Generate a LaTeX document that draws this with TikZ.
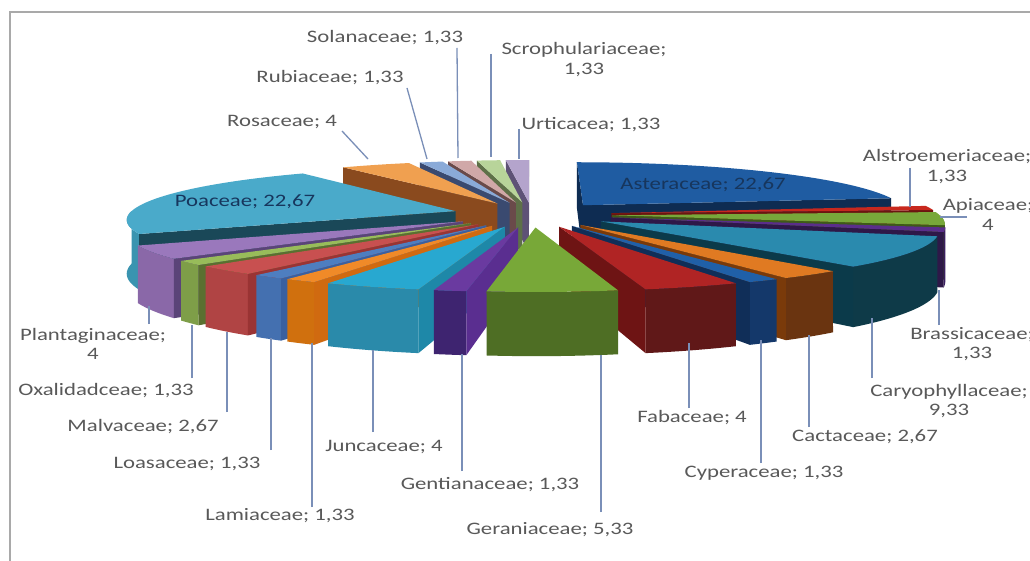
\documentclass[tikz,border=0pt]{standalone}
\usepackage{fontspec}
\setmainfont{Carlito}[FakeStretch=1.3]
\definecolor{txtgray}{HTML}{595959}
\definecolor{leadc}{HTML}{7A8FB8}
\definecolor{framec}{HTML}{A9A9A9}
\definecolor{inlbl}{HTML}{17365D}
% slice colours: T top, W radial wall, O outer wall
\definecolor{astT}{HTML}{1F5CA2}\definecolor{astW}{HTML}{0E2C52}
\definecolor{alsT}{HTML}{C8281E}\definecolor{alsW}{HTML}{6A1510}
\definecolor{apiT}{HTML}{78A83A}\definecolor{apiW}{HTML}{3E5A18}\definecolor{apiO}{HTML}{5A7E28}
\definecolor{braT}{HTML}{5A2E8A}\definecolor{braW}{HTML}{2E1848}\definecolor{braO}{HTML}{3A1E60}
\definecolor{carT}{HTML}{2A8AAE}\definecolor{carW}{HTML}{0B3A4A}\definecolor{carO}{HTML}{0E3A48}
\definecolor{cacT}{HTML}{E07A22}\definecolor{cacW}{HTML}{7A3A0A}\definecolor{cacO}{HTML}{6A3410}
\definecolor{cypT}{HTML}{2060A8}\definecolor{cypW}{HTML}{102E58}\definecolor{cypO}{HTML}{14386A}
\definecolor{fabT}{HTML}{B02424}\definecolor{fabW}{HTML}{6E1414}\definecolor{fabO}{HTML}{601818}
\definecolor{gerT}{HTML}{78A838}\definecolor{gerO}{HTML}{4E6E24}
\definecolor{genT}{HTML}{6A3AA0}\definecolor{genW}{HTML}{5A2E90}\definecolor{genO}{HTML}{3E2470}
\definecolor{junT}{HTML}{28A8D0}\definecolor{junW}{HTML}{1E88A8}\definecolor{junO}{HTML}{2A8AAA}
\definecolor{lamT}{HTML}{F08A28}\definecolor{lamW}{HTML}{D06A10}\definecolor{lamO}{HTML}{D0700E}
\definecolor{loaT}{HTML}{4E7EC0}\definecolor{loaW}{HTML}{3A60A0}\definecolor{loaO}{HTML}{4470B0}
\definecolor{malT}{HTML}{C85050}\definecolor{malW}{HTML}{9A3434}\definecolor{malO}{HTML}{B04444}
\definecolor{oxaT}{HTML}{98BC5A}\definecolor{oxaW}{HTML}{5A7030}\definecolor{oxaO}{HTML}{7E9E48}
\definecolor{plaT}{HTML}{9A78BC}\definecolor{plaW}{HTML}{5A4478}\definecolor{plaO}{HTML}{8A68A8}
\definecolor{poaT}{HTML}{4AAACA}\definecolor{poaW}{HTML}{1A4858}\definecolor{poaO}{HTML}{3A94B0}
\definecolor{rosT}{HTML}{F0A050}\definecolor{rosW}{HTML}{8A4A1E}
\definecolor{rubT}{HTML}{8AAAD8}\definecolor{rubW}{HTML}{3A4A70}
\definecolor{solT}{HTML}{D0A8A8}\definecolor{solW}{HTML}{6A4A4A}
\definecolor{scrT}{HTML}{B8D49A}\definecolor{scrW}{HTML}{5E7048}
\definecolor{urtT}{HTML}{B4A4CC}\definecolor{urtW}{HTML}{5E5276}
% pie geometry
\def\pcx{532}\def\pcy{214.5}\def\prx{327}\def\pry{51.4}\def\ppp{0.14}\def\pht{53}\def\pex{0.245}
\newcommand\slc[2]{\pgfmathsetmacro\smid{((#1)+(#2))/2}\pgfmathsetmacro\sx{\pex*cos(\smid)}\pgfmathsetmacro\sy{\pex*sin(\smid)}}
\newcommand\topface[3]{\fill[#3] ({\pcx+\prx*(\sx)/(1+\ppp*(\sy))},{\pcy-\pry*(\sy)/(1+\ppp*(\sy))}) -- plot[domain=#1:#2,samples=40,variable=\t] ({\pcx+\prx*((\sx)+cos(\t))/(1+\ppp*((\sy)+sin(\t)))},{\pcy-\pry*((\sy)+sin(\t))/(1+\ppp*((\sy)+sin(\t)))}) -- cycle;}
\newcommand\outerwall[3]{\fill[#3] plot[domain=#1:#2,samples=40,variable=\t] ({\pcx+\prx*((\sx)+cos(\t))/(1+\ppp*((\sy)+sin(\t)))},{\pcy-\pry*((\sy)+sin(\t))/(1+\ppp*((\sy)+sin(\t)))}) -- plot[domain=#2:#1,samples=40,variable=\t] ({\pcx+\prx*((\sx)+cos(\t))/(1+\ppp*((\sy)+sin(\t)))},{\pcy+(\pht-\pry*((\sy)+sin(\t)))/(1+\ppp*((\sy)+sin(\t)))}) -- cycle;}
\newcommand\radwall[2]{\fill[#2] ({\pcx+\prx*(\sx)/(1+\ppp*(\sy))},{\pcy-\pry*(\sy)/(1+\ppp*(\sy))}) -- ({\pcx+\prx*((\sx)+cos(#1))/(1+\ppp*((\sy)+sin(#1)))},{\pcy-\pry*((\sy)+sin(#1))/(1+\ppp*((\sy)+sin(#1)))}) -- ({\pcx+\prx*((\sx)+cos(#1))/(1+\ppp*((\sy)+sin(#1)))},{\pcy+(\pht-\pry*((\sy)+sin(#1)))/(1+\ppp*((\sy)+sin(#1)))}) -- ({\pcx+\prx*(\sx)/(1+\ppp*(\sy))},{\pcy+(\pht-\pry*(\sy))/(1+\ppp*(\sy))}) -- cycle;}
\tikzset{
  lbl/.style={text=txtgray, inner sep=0pt, align=center},
  inlabel/.style={text=inlbl, inner sep=0pt},
  leader/.style={draw=leadc, line width=1.3pt},
  frame/.style={draw=framec, line width=2pt}
}
\begin{document}
\begin{tikzpicture}[x=1pt,y=-1pt,font=\fontsize{17.5}{19.5}\selectfont]
\useasboundingbox (0,0) rectangle (1030,561);
\fill[white] (0,0) rectangle (1030,561);
\draw[frame] (10,561) -- (10,12) -- (1030,12);
% ---- right group ----
\slc{90}{8.4}\radwall{90}{astW}\radwall{8.4}{astW}\topface{90}{8.4}{astT}
\slc{8.4}{3.6}\radwall{3.6}{alsW}\topface{8.4}{3.6}{alsT}
\slc{3.6}{-10.8}\outerwall{-10.8}{0}{apiO}\radwall{-10.8}{apiW}\topface{3.6}{-10.8}{apiT}
\slc{-10.8}{-15.6}\outerwall{-15.6}{-10.8}{braO}\radwall{-15.6}{braW}\topface{-10.8}{-15.6}{braT}
\slc{-15.6}{-49.2}\outerwall{-49.2}{-15.6}{carO}\radwall{-49.2}{carW}\topface{-15.6}{-49.2}{carT}
\slc{-49.2}{-58.8}\outerwall{-58.8}{-49.2}{cacO}\radwall{-58.8}{cacW}\topface{-49.2}{-58.8}{cacT}
\slc{-58.8}{-63.6}\outerwall{-63.6}{-58.8}{cypO}\radwall{-63.6}{cypW}\topface{-58.8}{-63.6}{cypT}
\slc{-63.6}{-78}\outerwall{-78}{-63.6}{fabO}\radwall{-78}{fabW}\topface{-63.6}{-78}{fabT}
% ---- back group ----
\slc{94.8}{90}\radwall{94.8}{urtW}\radwall{90}{urtW}\topface{94.8}{90}{urtT}
\slc{99.6}{94.8}\radwall{99.6}{scrW}\topface{99.6}{94.8}{scrT}
\slc{104.4}{99.6}\radwall{104.4}{solW}\topface{104.4}{99.6}{solT}
\slc{109.2}{104.4}\radwall{109.2}{rubW}\topface{109.2}{104.4}{rubT}
\slc{123.6}{109.2}\radwall{123.6}{rosW}\topface{123.6}{109.2}{rosT}
% ---- left group ----
\slc{205.2}{123.6}\outerwall{180}{205.2}{poaO}\radwall{205.2}{poaW}\topface{205.2}{123.6}{poaT}
\slc{-140.4}{-154.8}\outerwall{-154.8}{-140.4}{plaO}\radwall{-140.4}{plaW}\topface{-140.4}{-154.8}{plaT}
\slc{-135.6}{-140.4}\outerwall{-140.4}{-135.6}{oxaO}\radwall{-135.6}{oxaW}\topface{-135.6}{-140.4}{oxaT}
\slc{-126}{-135.6}\outerwall{-135.6}{-126}{malO}\radwall{-126}{malW}\topface{-126}{-135.6}{malT}
\slc{-121.2}{-126}\outerwall{-126}{-121.2}{loaO}\radwall{-121.2}{loaW}\topface{-121.2}{-126}{loaT}
\slc{-116.4}{-121.2}\outerwall{-121.2}{-116.4}{lamO}\radwall{-116.4}{lamW}\topface{-116.4}{-121.2}{lamT}
\slc{-102}{-116.4}\outerwall{-116.4}{-102}{junO}\radwall{-102}{junW}\topface{-102}{-116.4}{junT}
\slc{-97.2}{-102}\outerwall{-102}{-97.2}{genO}\radwall{-97.2}{genW}\topface{-97.2}{-102}{genT}
% ---- front ----
\slc{-78}{-97.2}\outerwall{-97.2}{-78}{gerO}\topface{-78}{-97.2}{gerT}
% ---- inner labels ----
\node[inlabel] (poaL) at (245,202) {Poaceae; 22,67};
\node[inlabel] (astL) at (703,185) {Asteraceae; 22,67};
% ---- outer labels ----
\node[lbl] (solL) at (385,37.5) {Solanaceae; 1,33};
\node[lbl] (scrL) at (584,59.5) {Scrophulariaceae;\\1,33};
\node[lbl] (rubL) at (330,78) {Rubiaceae; 1,33};
\node[lbl] (rosL) at (282,122) {Rosaceae; 4};
\node[lbl] (urtL) at (591,124.5) {Urticacea; 1,33};
\node[lbl] (alsL) at (947,166.5) {Alstroemeriaceae;\\1,33};
\node[lbl] (apiL) at (988,214.5) {Apiaceae;\\4};
\node[lbl] (braL) at (972,344) {Brassicaceae;\\1,33};
\node[lbl] (carL) at (949,401) {Caryophyllaceae;\\9,33};
\node[lbl] (cacL) at (865,437) {Cactaceae; 2,67};
\node[lbl] (cypL) at (764,473) {Cyperaceae; 1,33};
\node[lbl] (fabL) at (692,418) {Fabaceae; 4};
\node[lbl] (gerL) at (550,530) {Geraniaceae; 5,33};
\node[lbl] (genL) at (490,485) {Gentianaceae; 1,33};
\node[lbl] (junL) at (384,447) {Juncaceae; 4};
\node[lbl] (lamL) at (280,516) {Lamiaceae; 1,33};
\node[lbl] (loaL) at (187,464) {Loasaceae; 1,33};
\node[lbl] (malL) at (143,427) {Malvaceae; 2,67};
\node[lbl] (oxaL) at (106,391) {Oxalidadceae; 1,33};
\node[lbl] (plaL) at (93,344) {Plantaginaceae;\\4};
% ---- leader lines ----
\coordinate (solA) at (457,48);  \coordinate (solB) at (458,158);
\coordinate (scrA) at (491,54);  \coordinate (scrB) at (491,157);
\coordinate (rubA) at (407,88);  \coordinate (rubB) at (427,159);
\coordinate (rosA) at (342,131); \coordinate (rosB) at (368,159);
\coordinate (urtA) at (519,129); \coordinate (urtB) at (519,159);
\coordinate (alsA) at (910,168); \coordinate (alsB) at (910,207);
\coordinate (apiA) at (967,217); \coordinate (apiB) at (940,217);
\coordinate (braA) at (939,325); \coordinate (braB) at (939,290);
\coordinate (carA) at (872,378); \coordinate (carB) at (872,318);
\coordinate (cacA) at (809,427); \coordinate (cacB) at (809,335);
\coordinate (cypA) at (761,463); \coordinate (cypB) at (761,340);
\coordinate (fabA) at (689,408); \coordinate (fabB) at (689,343);
\coordinate (gerA) at (601,512); \coordinate (gerB) at (601,355);
\coordinate (genA) at (462,471); \coordinate (genB) at (462,354);
\coordinate (junA) at (373,432); \coordinate (junB) at (373,350);
\coordinate (lamA) at (312,507); \coordinate (lamB) at (312,343);
\coordinate (loaA) at (271,450); \coordinate (loaB) at (271,338);
\coordinate (malA) at (227,412); \coordinate (malB) at (227,332);
\coordinate (oxaA) at (192,378); \coordinate (oxaB) at (192,325);
\coordinate (plaA) at (149,324); \coordinate (plaB) at (149,306);
\foreach \n in {sol,scr,rub,ros,urt,als,api,bra,car,cac,cyp,fab,ger,gen,jun,lam,loa,mal,oxa,pla}
  \draw[leader] (\n A) -- (\n B);
\end{tikzpicture}
\end{document}
